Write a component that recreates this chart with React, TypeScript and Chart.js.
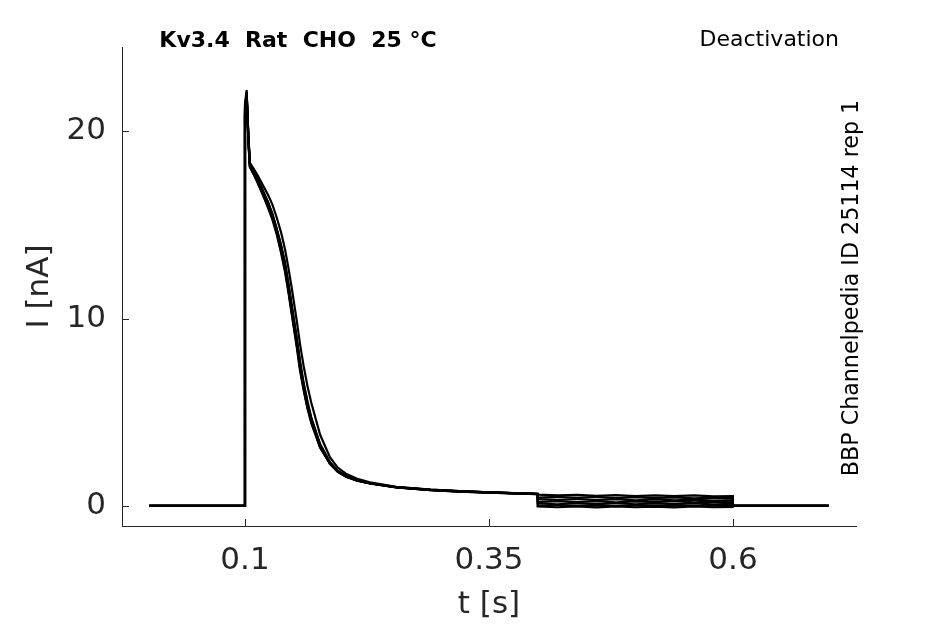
import React, { useEffect, useRef } from 'react';
import { Chart, registerables } from 'chart.js';

Chart.register(...registerables);

// time points of every sweep [s]
const timeS = [
  0.002, 0.0998, 0.1, 0.1017, 0.1035, 0.105, 0.109, 0.1135, 0.1185, 0.1237, 0.128, 0.1325,
  0.137, 0.141, 0.1445, 0.1477, 0.153, 0.1565, 0.16, 0.164, 0.168, 0.177, 0.187, 0.195,
  0.204, 0.215, 0.228, 0.255, 0.29, 0.32, 0.35, 0.3998,
  0.4, 0.42, 0.44, 0.46, 0.48, 0.5, 0.52, 0.54, 0.56, 0.58, 0.5998,
  0.6, 0.65, 0.698,
];

// current of each sweep [nA]
const sweepA = [
  0, 0, 21.0, 22.1, 19.6, 18.2, 17.8, 17.3, 16.7, 16.1, 15.5, 14.7, 13.8, 12.8, 11.7, 10.6,
  8.8, 7.5, 6.4, 5.4, 4.6, 3.2, 2.3, 1.85, 1.57, 1.36, 1.21, 1.0, 0.86, 0.78, 0.72, 0.64,
  0.6, 0.56, 0.59, 0.54, 0.58, 0.53, 0.57, 0.52, 0.56, 0.51, 0.53,
  0.02, 0.0, 0.01,
];
const sweepB = [
  0, 0, 21.3, 21.9, 19.4, 18.1, 17.7, 17.2, 16.6, 15.9, 15.3, 14.5, 13.5, 12.5, 11.4, 10.3,
  8.5, 7.2, 6.2, 5.2, 4.4, 3.1, 2.25, 1.82, 1.55, 1.35, 1.2, 0.99, 0.85, 0.77, 0.71, 0.63,
  0.44, 0.49, 0.43, 0.48, 0.42, 0.47, 0.42, 0.46, 0.41, 0.45, 0.42,
  0.01, 0.0, 0.0,
];
const sweepC = [
  0, 0, 20.8, 22.0, 19.8, 18.3, 17.9, 17.4, 16.8, 16.2, 15.6, 14.8, 13.9, 13.0, 11.9, 10.8,
  9.0, 7.7, 6.6, 5.6, 4.7, 3.3, 2.35, 1.88, 1.6, 1.38, 1.22, 1.01, 0.87, 0.79, 0.73, 0.65,
  0.36, 0.32, 0.37, 0.31, 0.36, 0.3, 0.35, 0.3, 0.34, 0.29, 0.31,
  0.0, 0.01, 0.0,
];
const sweepD = [
  0, 0, 21.5, 22.2, 19.5, 18.2, 17.8, 17.3, 16.7, 16.0, 15.4, 14.6, 13.7, 12.7, 11.6, 10.5,
  8.7, 7.4, 6.3, 5.3, 4.5, 3.15, 2.28, 1.84, 1.56, 1.36, 1.21, 1.0, 0.86, 0.78, 0.72, 0.64,
  0.21, 0.26, 0.2, 0.25, 0.19, 0.24, 0.2, 0.25, 0.19, 0.23, 0.2,
  0.0, 0.0, 0.01,
];
const sweepE = [
  0, 0, 21.1, 22.0, 19.7, 18.3, 17.9, 17.4, 16.8, 16.2, 15.6, 14.8, 13.9, 12.9, 11.8, 10.7,
  8.9, 7.6, 6.5, 5.5, 4.65, 3.25, 2.32, 1.86, 1.58, 1.37, 1.22, 1.0, 0.86, 0.78, 0.72, 0.64,
  0.14, 0.09, 0.15, 0.1, 0.15, 0.09, 0.14, 0.1, 0.13, 0.08, 0.11,
  0.01, 0.0, 0.0,
];
const sweepF = [
  0, 0, 20.9, 21.8, 19.5, 18.1, 17.7, 17.2, 16.6, 16.0, 15.4, 14.6, 13.6, 12.6, 11.5, 10.4,
  8.6, 7.3, 6.3, 5.3, 4.5, 3.15, 2.27, 1.83, 1.56, 1.35, 1.2, 0.99, 0.85, 0.77, 0.71, 0.63,
  0.01, 0.05, 0.0, 0.04, -0.01, 0.04, 0.0, 0.03, -0.01, 0.03, 0.01,
  0.0, 0.0, 0.0,
];
const sweepG = [
  0, 0, 21.2, 21.9, 19.6, 18.3, 18.0, 17.6, 17.1, 16.6, 16.1, 15.4, 14.6, 13.7, 12.7, 11.7,
  9.9, 8.6, 7.5, 6.4, 5.5, 3.8, 2.6, 2.05, 1.7, 1.45, 1.26, 1.02, 0.87, 0.79, 0.73, 0.65,
  -0.03, -0.07, -0.02, -0.08, -0.03, -0.07, -0.04, -0.08, -0.03, -0.07, -0.05,
  0.0, 0.0, 0.0,
];
const sweeps = [sweepA, sweepB, sweepC, sweepD, sweepE, sweepF, sweepG];

const xTicks = [0.1, 0.35, 0.6];
const yTicks = [0, 10, 20];

const axisColor = '#262626';
const family = '"DejaVu Sans", sans-serif';

const App: React.FC = () => {
  const chartRef = useRef<HTMLCanvasElement>(null);

  useEffect(() => {
    if (!chartRef.current) return;
    const ctx = chartRef.current.getContext('2d');
    if (!ctx) return;

    // matlab style ticks pointing into the plot
    const inwardTicks = {
      id: 'inwardTicks',
      afterDraw(chart: any) {
        const { ctx: c, chartArea: a, scales } = chart;
        c.save();
        c.strokeStyle = axisColor;
        c.lineWidth = 1;
        c.beginPath();
        xTicks.forEach((v) => {
          const px = Math.round(scales.x.getPixelForValue(v)) + 0.5;
          c.moveTo(px, a.bottom);
          c.lineTo(px, a.bottom - 7);
        });
        yTicks.forEach((v) => {
          const py = Math.round(scales.y.getPixelForValue(v)) + 0.5;
          c.moveTo(a.left, py);
          c.lineTo(a.left + 7, py);
        });
        c.stroke();
        c.restore();
      },
    };

    const headings = {
      id: 'headings',
      afterDraw(chart: any) {
        const c = chart.ctx;
        c.save();
        c.fillStyle = '#000';
        c.textBaseline = 'alphabetic';
        c.font = `bold 22px ${family}`;
        c.textAlign = 'center';
        c.fillText('Kv3.4  Rat  CHO  25 °C', 298, 47);
        c.font = `22px ${family}`;
        c.textAlign = 'right';
        c.fillText('Deactivation', 839, 46);
        c.font = `22.2px ${family}`;
        c.translate(858, 288);
        c.rotate(-Math.PI / 2);
        c.textAlign = 'center';
        c.fillText('BBP Channelpedia ID 25114 rep 1', 0, 0);
        c.restore();
      },
    };

    const chart = new Chart(ctx, {
      type: 'line',
      data: {
        datasets: sweeps.map((s, i) => ({
          label: `sweep ${i + 1}`,
          data: timeS.map((t, j) => ({ x: t, y: s[j] })),
          borderColor: '#000',
          borderWidth: 2.2,
          pointRadius: 0,
          fill: false,
          tension: 0,
        })),
      },
      options: {
        responsive: false,
        animation: false,
        devicePixelRatio: 1,
        layout: { padding: { top: 47, right: 89, left: 0, bottom: 0 } },
        plugins: {
          legend: { display: false },
          tooltip: { enabled: false },
        },
        scales: {
          x: {
            type: 'linear',
            min: -0.026,
            max: 0.726,
            afterBuildTicks: (s: any) => {
              s.ticks = xTicks.map((v) => ({ value: v }));
            },
            afterFit: (s: any) => {
              s.height = 98;
            },
            grid: { display: true, drawOnChartArea: false, drawTicks: false },
            border: { display: true, color: axisColor, width: 1 },
            ticks: {
              padding: 16,
              color: axisColor,
              font: { family, size: 31 },
              maxRotation: 0,
              callback: (v: any) => String(v),
            },
            title: {
              display: true,
              text: 't [s]',
              color: axisColor,
              font: { family, size: 31 },
              padding: { top: 0, bottom: 0 },
            },
          },
          y: {
            type: 'linear',
            min: -1.07,
            max: 24.5,
            afterBuildTicks: (s: any) => {
              s.ticks = yTicks.map((v) => ({ value: v }));
            },
            afterFit: (s: any) => {
              s.width = 122;
            },
            grid: { display: true, drawOnChartArea: false, drawTicks: false },
            border: { display: true, color: axisColor, width: 1 },
            ticks: {
              padding: 16,
              color: axisColor,
              font: { family, size: 31 },
              callback: (v: any) => String(v),
            },
            title: {
              display: true,
              text: 'I [nA]',
              color: axisColor,
              font: { family, size: 31 },
              padding: { top: 21, bottom: 0 },
            },
          },
        },
      },
      plugins: [inwardTicks, headings],
    });

    return () => {
      chart.destroy();
    };
  }, []);

  return (
    <div style={{ position: 'absolute', left: 0, top: 0, width: 945, height: 624, background: '#fff' }}>
      <canvas ref={chartRef} width={945} height={624} style={{ display: 'block' }} />
    </div>
  );
};

export default App;
